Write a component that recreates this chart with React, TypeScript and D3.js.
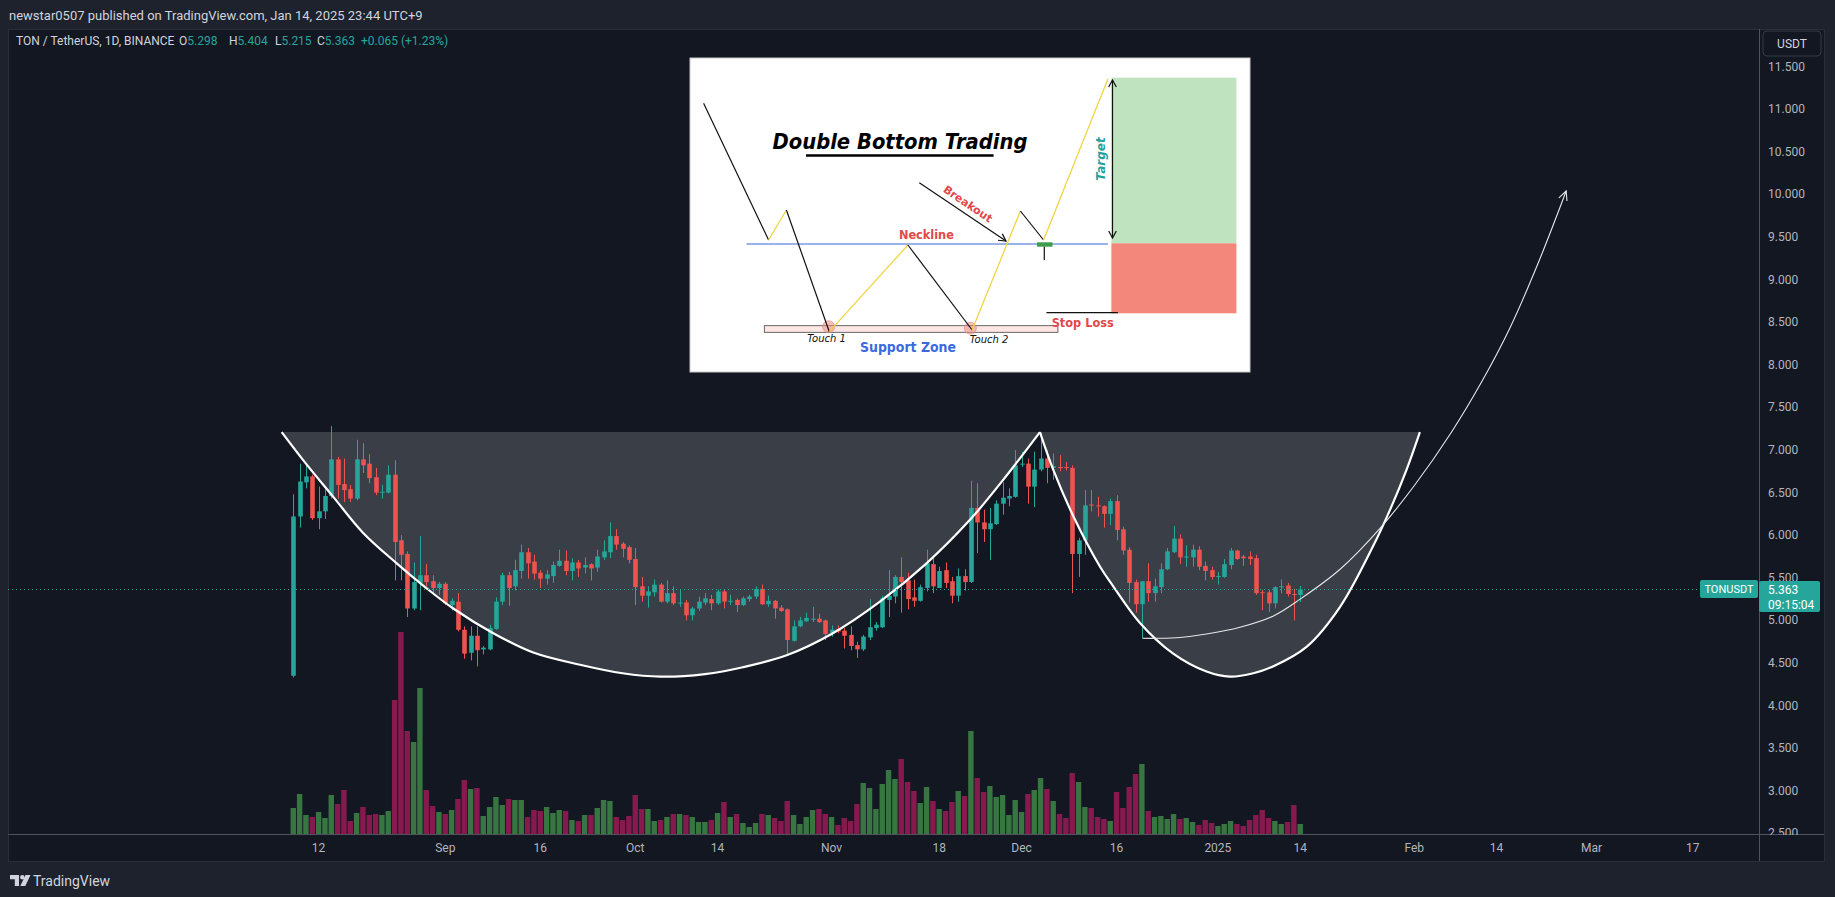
import React from 'react';
import * as d3 from 'd3';

const W = 1835;
const H = 897;

// ---- data (TON/USDT, Binance, 1D) starting 2024-08-08 ----
const startDay = Date.UTC(2024, 7, 8);
const opens = [4.35,6.22,6.62,6.69,6.20,6.28,6.46,6.89,6.60,6.54,6.43,6.89,6.84,6.68,6.50,6.50,6.71,5.94,5.78,5.14,5.44,5.53,5.46,5.38,5.43,5.18,5.22,4.89,4.62,4.82,4.66,4.66,4.90,5.22,5.53,5.40,5.58,5.80,5.69,5.56,5.49,5.52,5.64,5.70,5.58,5.68,5.62,5.66,5.62,5.74,5.80,5.99,5.90,5.86,5.72,5.40,5.29,5.33,5.42,5.22,5.32,5.20,5.21,5.06,5.14,5.21,5.25,5.20,5.34,5.22,5.24,5.18,5.25,5.28,5.37,5.19,5.23,5.15,5.13,4.76,4.93,4.99,5.01,5.02,5.00,4.85,4.90,4.88,4.83,4.71,4.66,4.80,4.91,4.92,5.24,5.28,5.51,5.47,5.27,5.23,5.38,5.66,5.38,5.59,5.46,5.29,5.52,5.45,6.32,6.15,6.07,6.13,6.37,6.43,6.45,6.83,6.84,6.57,6.77,6.90,6.79,6.80,6.80,6.79,5.78,5.94,6.36,6.35,6.34,6.25,6.40,6.07,5.83,5.45,5.19,5.46,5.32,5.39,5.60,5.80,5.96,5.74,5.74,5.83,5.64,5.59,5.51,5.51,5.65,5.82,5.75,5.75,5.73,5.33,5.33,5.20,5.39,5.41,5.31,5.298];
const highs = [6.48,6.84,6.85,6.71,6.57,6.57,7.28,6.92,6.90,6.59,7.12,7.08,6.95,6.79,6.59,6.82,6.88,6.00,5.81,5.68,5.99,5.66,5.53,5.45,5.45,5.26,5.32,4.93,4.93,4.93,4.70,4.95,5.27,5.56,5.57,5.71,5.89,5.85,5.77,5.59,5.59,5.69,5.83,5.82,5.73,5.71,5.74,5.67,5.83,5.94,6.15,6.07,5.92,5.88,5.85,5.51,5.40,5.48,5.44,5.47,5.40,5.36,5.24,5.16,5.28,5.32,5.30,5.36,5.36,5.30,5.26,5.28,5.30,5.40,5.42,5.29,5.24,5.18,5.14,5.00,5.04,5.09,5.16,5.08,5.01,4.94,4.94,4.91,4.93,4.75,4.83,5.25,4.98,5.29,5.59,5.53,5.74,5.56,5.48,5.42,5.83,5.74,5.63,5.68,5.51,5.61,5.60,6.64,6.61,6.30,6.32,6.41,6.62,6.55,7.00,6.98,6.90,6.98,7.20,7.00,6.96,6.94,6.86,6.82,5.97,6.53,6.53,6.45,6.35,6.43,6.47,6.10,5.86,5.48,5.46,5.67,5.49,5.67,5.85,6.11,6.01,5.88,5.89,5.87,5.69,5.63,5.57,5.72,5.85,5.83,5.77,5.81,5.77,5.36,5.36,5.40,5.48,5.44,5.37,5.404];
const lows = [4.33,6.09,6.55,6.18,6.07,6.19,6.43,6.43,6.39,6.39,6.41,6.73,6.61,6.47,6.43,6.49,5.47,5.47,5.04,5.12,5.12,5.40,5.30,5.30,5.18,5.12,4.87,4.55,4.53,4.46,4.60,4.65,4.89,5.18,5.17,5.35,5.49,5.49,5.48,5.38,5.42,5.44,5.63,5.53,5.47,5.51,5.55,5.47,5.57,5.71,5.73,5.83,5.74,5.67,5.18,5.22,5.15,5.28,5.21,5.20,5.18,5.16,5.00,5.00,5.11,5.18,5.12,5.18,5.14,5.18,5.10,5.17,5.22,5.25,5.18,5.16,5.02,5.10,4.59,4.75,4.92,4.98,4.98,4.97,4.77,4.81,4.85,4.67,4.65,4.56,4.64,4.77,4.88,4.91,5.04,5.20,5.09,5.13,5.16,5.22,5.34,5.32,5.38,5.38,5.20,5.22,5.35,5.44,5.79,5.92,5.71,6.12,6.24,6.34,6.44,6.80,6.37,6.33,6.75,6.61,6.65,6.75,6.76,5.32,5.51,5.77,6.28,6.22,6.09,6.12,5.94,5.77,5.21,5.09,4.79,5.22,5.22,5.32,5.59,5.79,5.66,5.63,5.63,5.59,5.47,5.48,5.42,5.50,5.60,5.71,5.64,5.65,5.30,5.12,5.10,5.14,5.32,5.28,5.00,5.215];
const closes = [6.22,6.63,6.69,6.20,6.28,6.46,6.89,6.59,6.53,6.43,6.89,6.82,6.67,6.50,6.51,6.71,5.92,5.77,5.14,5.45,5.53,5.45,5.38,5.43,5.20,5.23,4.89,4.61,4.82,4.65,4.68,4.91,5.22,5.53,5.38,5.59,5.80,5.67,5.55,5.49,5.54,5.65,5.70,5.58,5.68,5.61,5.65,5.61,5.75,5.81,5.99,5.89,5.84,5.71,5.39,5.29,5.34,5.42,5.22,5.32,5.20,5.21,5.06,5.14,5.22,5.26,5.20,5.34,5.22,5.23,5.18,5.26,5.28,5.37,5.19,5.23,5.14,5.11,4.77,4.93,5.00,5.03,5.02,4.98,4.84,4.89,4.87,4.82,4.70,4.66,4.81,4.92,4.95,5.26,5.29,5.51,5.45,5.25,5.23,5.39,5.67,5.40,5.58,5.44,5.29,5.52,5.45,6.32,6.15,6.07,6.14,6.37,6.44,6.46,6.82,6.84,6.57,6.77,6.90,6.79,6.81,6.79,6.79,5.78,5.94,6.35,6.35,6.34,6.25,6.40,6.06,5.82,5.44,5.19,5.46,5.32,5.40,5.60,5.81,5.96,5.74,5.75,5.83,5.63,5.58,5.51,5.52,5.66,5.82,5.72,5.73,5.72,5.32,5.32,5.20,5.39,5.40,5.31,5.30,5.363];
const volumes = [26,40,19,17,22,16,39,30,44,13,21,27,19,20,19,23,134,202,103,92,146,44,28,22,20,24,35,54,45,46,18,27,37,29,35,34,34,17,24,23,27,21,24,23,14,13,19,19,26,34,33,17,14,18,39,25,25,13,14,17,20,20,19,17,12,12,14,21,32,17,20,11,7,11,20,19,16,13,33,19,10,17,24,25,20,17,9,16,13,30,51,46,25,50,64,55,75,52,43,31,47,33,25,23,32,43,38,103,56,42,48,37,39,19,34,22,40,44,56,45,33,20,16,61,52,27,26,17,15,13,42,26,47,60,70,23,17,18,15,20,15,16,12,9,14,11,8,10,13,10,8,14,19,24,16,13,10,12,29,10];

const xTickDates = [[2024,7,12],[2024,8,1],[2024,8,16],[2024,9,1],[2024,9,14],[2024,10,1],[2024,10,18],[2024,11,1],[2024,11,16],[2025,0,1],[2025,0,14],[2025,1,1],[2025,1,14],[2025,2,1],[2025,2,17]];
const xTickLabels = ['12','Sep','16','Oct','14','Nov','18','Dec','16','2025','14','Feb','14','Mar','17'];
const yTicks = [2.5,3,3.5,4,4.5,5,5.5,6,6.5,7,7.5,8,8.5,9,9.5,10,10.5,11,11.5];

// ---- drawings, in (bar index from 2024-08-08, price) ----
const cupLeft: [number, number][] = [[-1.83,7.21],[2,6.84],[6.32,6.45],[11,6.03],[16.33,5.67],[21,5.38],[25.26,5.14],[31.58,4.85],[38,4.62],[45.27,4.48],[52,4.38],[57.98,4.34],[65,4.37],[71,4.45],[77.91,4.59],[85,4.84],[92.64,5.22],[100,5.67],[106.85,6.18],[112,6.64],[117.9,7.21]];
const cupRight: [number, number][] = [[117.9,7.21],[120.0,6.77],[123.2,6.22],[127.4,5.63],[129.48,5.40],[133.7,4.97],[138.95,4.61],[144.2,4.40],[147.9,4.34],[151.6,4.38],[154.7,4.46],[160.0,4.69],[165.3,5.16],[170.5,5.87],[173.2,6.30],[175.8,6.77],[177.9,7.21]];
const rimPrice = 7.21;
const projection: [number, number][] = [[134.1,4.79],[136.5,4.79],[140,4.80],[144.2,4.84],[149.5,4.92],[154.7,5.05],[159,5.25],[165.3,5.60],[171.6,6.08],[177,6.58],[182.8,7.20],[187.5,7.78],[192.1,8.43],[196.5,9.18],[201.0,10.04]];

// ---- inset illustration (local px inside the pasted picture) ----
const insetZigzag: [number, number][] = [[13.6,45.3],[78.6,182],[96.4,152],[139.3,273.7],[217.9,187],[282.1,272],[330.4,153],[353.6,182],[417.9,21]];

export default function App() {
  const paneL = 8, paneT = 29, paneR = 1824, paneB = 861, axisX = 1759, axisY = 834;
  const dayMs = 864e5;
  const x = d3.scaleUtc()
    .domain([new Date(Date.UTC(2024, 7, 12)), new Date(Date.UTC(2025, 0, 14))])
    .range([318.6, 1300.2]);
  const xi = (i: number) => x(new Date(startDay + i * dayMs));
  const y = d3.scaleLinear().domain([2.5, 11.5]).range([833.4, 66.6]);
  const vmax = d3.max(volumes) as number;
  const yv = d3.scaleLinear().domain([0, vmax]).range([axisY, axisY - 202]);

  const up = '#26a69a', down = '#ef5350';
  const volUp = '#377640', volDown = '#861a4f';

  const line = d3.line<[number, number]>().x(d => xi(d[0])).y(d => y(d[1])).curve(d3.curveCatmullRom.alpha(0.5));
  const dL = line(cupLeft) as string;
  const dR = line(cupRight) as string;
  const dFill = dL + 'L' + dR.slice(1) + 'L' + xi(cupLeft[0][0]) + ',' + y(rimPrice) + 'Z';
  const dProj = line(projection) as string;
  const pA = projection[projection.length - 2], pB = projection[projection.length - 1];
  const ax = xi(pB[0]), ay = y(pB[1]);
  const ang = Math.atan2(ay - y(pA[1]), ax - xi(pA[0]));
  const head = (a: number) => `M${ax + 10 * Math.cos(ang + Math.PI - a)},${ay + 10 * Math.sin(ang + Math.PI - a)}L${ax},${ay}L${ax + 10 * Math.cos(ang + Math.PI + a)},${ay + 10 * Math.sin(ang + Math.PI + a)}`;

  const lastClose = closes[closes.length - 1];
  const bw = 4.6;

  const ui = 'Roboto, "Noto Sans", sans-serif';

  // inset
  const ix = d3.scaleLinear().domain([0, 560]).range([690, 1250]);
  const iy = d3.scaleLinear().domain([0, 314]).range([58, 372]);
  const arrowHead = (x1: number, y1: number, x2: number, y2: number, len = 8) => {
    const a = Math.atan2(y2 - y1, x2 - x1);
    const s = 0.5;
    return `M${x2 - len * Math.cos(a - s)},${y2 - len * Math.sin(a - s)}L${x2},${y2}L${x2 - len * Math.cos(a + s)},${y2 - len * Math.sin(a + s)}`;
  };

  return (
    <div style={{ position: 'fixed', left: 0, top: 0 }}>
      <svg width={W} height={H} style={{ display: 'block', background: '#1e222d' }}>
        <defs>
          <clipPath id="pane">
            <rect x={paneL} y={paneT} width={axisX - paneL} height={axisY - paneT} />
          </clipPath>
        </defs>
        {/* header */}
        <text x={9} y={15} dominantBaseline="central" fontFamily={ui} fontSize={13} fill="#d1d4dc">newstar0507 published on TradingView.com, Jan 14, 2025 23:44 UTC+9</text>
        <rect x={paneL + 0.5} y={paneT + 0.5} width={paneR - paneL} height={paneB - paneT} fill="#131722" stroke="#2a2e39" />

        <g clipPath="url(#pane)">
          {/* volume */}
          {volumes.map((v, i) => (
            <rect key={'v' + i} x={xi(i) - 2.7} y={yv(v)} width={5.4} height={axisY - yv(v)} fill={closes[i] >= opens[i] ? volUp : volDown} />
          ))}
          {/* cup shading */}
          <path d={dFill} fill="rgba(255,255,255,0.17)" stroke="none" />
          {/* candles */}
          {opens.map((o, i) => {
            const c = closes[i];
            const col = c >= o ? up : down;
            const cx = Math.round(xi(i));
            const top = y(Math.max(o, c));
            const bh = Math.max(1, y(Math.min(o, c)) - top);
            return (
              <g key={'c' + i}>
                <line x1={cx + 0.5} x2={cx + 0.5} y1={y(highs[i])} y2={y(lows[i])} stroke={col} strokeWidth={1} />
                <rect x={cx + 0.5 - bw / 2} y={top} width={bw} height={bh} fill={col} />
              </g>
            );
          })}
          {/* cup lines */}
          <path d={dL} fill="none" stroke="#ffffff" strokeWidth={2.2} />
          <path d={dR} fill="none" stroke="#ffffff" strokeWidth={2.2} />
          <path d={dProj} fill="none" stroke="#e6e7ea" strokeWidth={1.1} />
          <path d={head(0.45)} fill="none" stroke="#e6e7ea" strokeWidth={1.1} />
          {/* last price line */}
          <line x1={paneL} x2={axisX} y1={Math.round(y(lastClose)) + 0.5} y2={Math.round(y(lastClose)) + 0.5} stroke={up} strokeWidth={1} strokeDasharray="1 3" />
        </g>

        {/* symbol line */}
        <text y={41} dominantBaseline="central" fontFamily={ui} fontSize={12} fill="#d1d4dc">
          <tspan x={16}>TON / TetherUS, 1D, BINANCE</tspan>
          <tspan x={179}>O</tspan><tspan fill={up}>5.298</tspan>
          <tspan x={229}>H</tspan><tspan fill={up}>5.404</tspan>
          <tspan x={275}>L</tspan><tspan fill={up}>5.215</tspan>
          <tspan x={317}>C</tspan><tspan fill={up}>5.363</tspan>
          <tspan x={361} fill={up}>+0.065 (+1.23%)</tspan>
        </text>

        {/* inset picture */}
        <g>
          <rect x={ix(0)} y={iy(0)} width={ix(560) - ix(0)} height={iy(314) - iy(0)} fill="#ffffff" stroke="#c8c8c8" strokeWidth={1} />
          <rect x={ix(421.4)} y={iy(19.7)} width={ix(546.4) - ix(421.4)} height={iy(185.3) - iy(19.7)} fill="#bfe3bf" />
          <rect x={ix(421.4)} y={iy(185.3)} width={ix(546.4) - ix(421.4)} height={iy(255.3) - iy(185.3)} fill="#f4877c" />
          <rect x={ix(74.3)} y={iy(267.7)} width={ix(367.9) - ix(74.3)} height={iy(274.3) - iy(267.7)} fill="#fde6e3" stroke="#444" strokeWidth={0.8} />
          <circle cx={ix(138.6)} cy={iy(268.7)} r={6} fill="rgba(236,140,130,0.55)" stroke="#d88" strokeWidth={0.6} />
          <circle cx={ix(280.4)} cy={iy(270.3)} r={6} fill="rgba(236,140,130,0.55)" stroke="#d88" strokeWidth={0.6} />
          <line x1={ix(56.4)} x2={ix(417.9)} y1={iy(186)} y2={iy(186)} stroke="#7a9ae0" strokeWidth={1.3} />
          {insetZigzag.slice(1).map((p, k) => {
            const q = insetZigzag[k];
            return <line key={'z' + k} x1={ix(q[0])} y1={iy(q[1])} x2={ix(p[0])} y2={iy(p[1])} stroke={k % 2 === 0 ? '#111' : '#f0d23a'} strokeWidth={1.2} />;
          })}
          <rect x={ix(347)} y={iy(184.3)} width={ix(362.5) - ix(347)} height={iy(188.7) - iy(184.3)} fill="#3e9c4a" />
          <line x1={ix(354.3)} x2={ix(354.3)} y1={iy(188.7)} y2={iy(202)} stroke="#111" strokeWidth={1.2} />
          <line x1={ix(229.3)} y1={iy(124.7)} x2={ix(316)} y2={iy(183)} stroke="#111" strokeWidth={1.2} />
          <path d={arrowHead(ix(229.3), iy(124.7), ix(316), iy(183))} fill="none" stroke="#111" strokeWidth={1.2} />
          <line x1={ix(356.4)} x2={ix(427.9)} y1={iy(254.7)} y2={iy(254.7)} stroke="#111" strokeWidth={1.3} />
          <line x1={ix(422.5)} x2={ix(422.5)} y1={iy(22)} y2={iy(180)} stroke="#111" strokeWidth={1.2} />
          <path d={arrowHead(ix(422.5), iy(180), ix(422.5), iy(22))} fill="none" stroke="#111" strokeWidth={1.2} />
          <path d={arrowHead(ix(422.5), iy(22), ix(422.5), iy(180))} fill="none" stroke="#111" strokeWidth={1.2} />
          <text x={ix(210)} y={iy(91)} textAnchor="middle" fontFamily='"DejaVu Sans", sans-serif' fontStyle="italic" fontWeight="bold" fontSize={22} textLength={255} lengthAdjust="spacingAndGlyphs" fill="#000">Double Bottom Trading</text>
          <line x1={ix(116)} x2={ix(303.6)} y1={iy(97.5)} y2={iy(97.5)} stroke="#000" strokeWidth={2.5} />
          <text x={ix(236.4)} y={iy(180.5)} textAnchor="middle" fontFamily='"DejaVu Sans", sans-serif' fontWeight="bold" fontSize={11.5} textLength={55} lengthAdjust="spacingAndGlyphs" fill="#e2474a">Neckline</text>
          <text transform={`translate(${ix(277.7)},${iy(146.2)}) rotate(34)`} textAnchor="middle" dominantBaseline="central" fontFamily='"DejaVu Sans", sans-serif' fontWeight="bold" fontSize={11} fill="#e2474a">Breakout</text>
          <text x={ix(136.5)} y={iy(284)} textAnchor="middle" fontFamily='"DejaVu Sans", sans-serif' fontStyle="italic" fontSize={10} fill="#111">Touch 1</text>
          <text x={ix(299)} y={iy(285)} textAnchor="middle" fontFamily='"DejaVu Sans", sans-serif' fontStyle="italic" fontSize={10} fill="#111">Touch 2</text>
          <text x={ix(218)} y={iy(294)} textAnchor="middle" fontFamily='"DejaVu Sans", sans-serif' fontWeight="600" fontSize={14} textLength={96} lengthAdjust="spacingAndGlyphs" fill="#3b6ae0">Support Zone</text>
          <text x={ix(392.7)} y={iy(269)} textAnchor="middle" fontFamily='"DejaVu Sans", sans-serif' fontWeight="bold" fontSize={12} textLength={62} lengthAdjust="spacingAndGlyphs" fill="#e2474a">Stop Loss</text>
          <text transform={`translate(${ix(411.4)},${iy(101)}) rotate(-90)`} textAnchor="middle" dominantBaseline="central" fontFamily='"DejaVu Sans", sans-serif' fontWeight="bold" fontStyle="italic" fontSize={12} fill="#1fa39a">Target</text>
        </g>

        {/* axes separators */}
        <line x1={axisX + 0.5} x2={axisX + 0.5} y1={paneT} y2={paneB} stroke="#50535e" strokeWidth={1} />
        <line x1={paneL} x2={paneR} y1={axisY + 0.5} y2={axisY + 0.5} stroke="#50535e" strokeWidth={1} />

        {/* y axis labels */}
        {yTicks.map(t => (
          <text key={'y' + t} x={1768} y={y(t)} dominantBaseline="central" fontFamily={ui} fontSize={12} fill="#b2b5be">{t.toFixed(3)}</text>
        ))}
        {/* hide the lower half of the lowest label under the axis line */}
        <rect x={axisX + 1} y={axisY + 1} width={paneR - axisX - 2} height={paneB - axisY - 2} fill="#131722" />

        {/* x axis labels */}
        {xTickDates.map((d, k) => (
          <text key={'x' + k} x={x(new Date(Date.UTC(d[0], d[1], d[2])))} y={848} textAnchor="middle" dominantBaseline="central" fontFamily={ui} fontSize={12} fill="#b2b5be">{xTickLabels[k]}</text>
        ))}

        {/* USDT button */}
        <rect x={1763} y={31} width={58} height={25} rx={4} fill="#131722" stroke="#363a45" />
        <text x={1792} y={44} textAnchor="middle" dominantBaseline="central" fontFamily={ui} fontSize={12} fill="#d1d4dc">USDT</text>

        {/* price labels */}
        <rect x={1700} y={580} width={58} height={18} rx={2} fill={up} />
        <text x={1729} y={589.5} textAnchor="middle" dominantBaseline="central" fontFamily={ui} fontSize={11} fill="#ffffff">TONUSDT</text>
        <rect x={1759} y={581} width={61} height={31} rx={2} fill={up} />
        <text x={1768} y={590} dominantBaseline="central" fontFamily={ui} fontSize={12} fill="#ffffff">{lastClose.toFixed(3)}</text>
        <text x={1768} y={605} dominantBaseline="central" fontFamily={ui} fontSize={12} fill="#ffffff">09:15:04</text>

        {/* TradingView logo */}
        <g fill="#d1d4dc">
          <path d="M10 875 h9 v11 h-4.2 v-6.8 h-4.8 z" />
          <circle cx={22.3} cy={877.2} r={2.2} />
          <path d="M25.5 875 h5 l-5.2 11 h-5 z" />
        </g>
        <text x={33} y={880.5} dominantBaseline="central" fontFamily={ui} fontSize={14} fill="#d1d4dc">TradingView</text>
      </svg>
    </div>
  );
}
